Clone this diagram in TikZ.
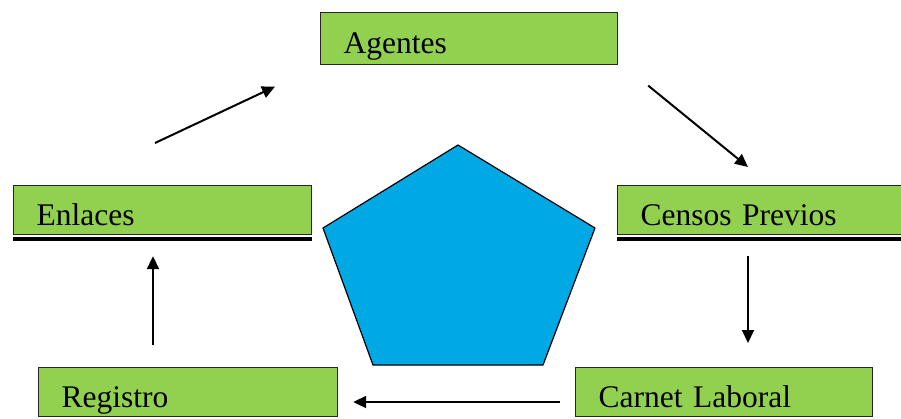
\documentclass[tikz,border=0pt]{standalone}
\usepackage{fontspec}
\setmainfont[WordSpace=0.6]{Liberation Serif}
\usetikzlibrary{arrows.meta,calc}
\definecolor{boxgreen}{RGB}{146,208,80}
\definecolor{pentblue}{RGB}{0,168,228}
\begin{document}
\begin{tikzpicture}[x=1pt,y=1pt,
  gbox/.style={draw=black!85, line width=1.2pt, fill=boxgreen, anchor=north west,
    minimum width=#1, text width=#1-46, inner xsep=23pt, inner ysep=0pt,
    align=left, font=\fontsize{31.5}{31.5}\selectfont, text height=32pt, text depth=2pt},
  shadowline/.style={line width=4.5pt, black},
  arr/.style={line width=2pt, -{Triangle[length=13pt,width=12pt]}}]
\useasboundingbox (0,0) rectangle (901,-418);
\clip (0,0) rectangle (901,-418);
% pentagon
\draw[fill=pentblue, line width=1.2pt, line join=round]
  (458,-145) -- (595,-228) -- (543,-365) -- (373,-365) -- (323,-228) -- cycle;
% boxes
\node[gbox=297pt, minimum height=52pt] (ag) at (320,-12) {Agentes};
\node[gbox=298pt, minimum height=49pt] (enl) at (13,-185) {Enlaces};
\node[gbox=300pt, minimum height=49pt] (cen) at (617,-185) {Censos Previos};
\node[gbox=299pt, minimum height=49pt] (reg) at (38,-367) {Registro};
\node[gbox=297pt, minimum height=49pt] (car) at (575,-367) {Carnet Laboral};
\draw[shadowline] ([yshift=-4pt]enl.south west) -- ([yshift=-4pt]enl.south east);
\draw[shadowline] ([yshift=-4pt]cen.south west) -- ([yshift=-4pt]cen.south east);
\draw[shadowline] ([yshift=-4pt]reg.south west) -- ([yshift=-4pt]reg.south east);
\draw[shadowline] ([yshift=-4pt]car.south west) -- ([yshift=-4pt]car.south east);
% connectors
\draw[arr] ($(enl.north west)+(142,42)$) -- ($(ag.west)+(-45,-48)$);
\draw[arr] ($(ag.east)+(30,-47)$) -- ($(cen.north west)+(131,18)$);
\draw[arr] ($(cen.south west)+(131,-21)$) -- ($(car.north west)+(173,24)$);
\draw[arr] ($(car.north west)+(-15,-35)$) -- ($(reg.north east)+(15,-35)$);
\draw[arr] ($(reg.north west)+(115,22)$) -- ($(enl.south west)+(140,-21)$);
\end{tikzpicture}
\end{document}
